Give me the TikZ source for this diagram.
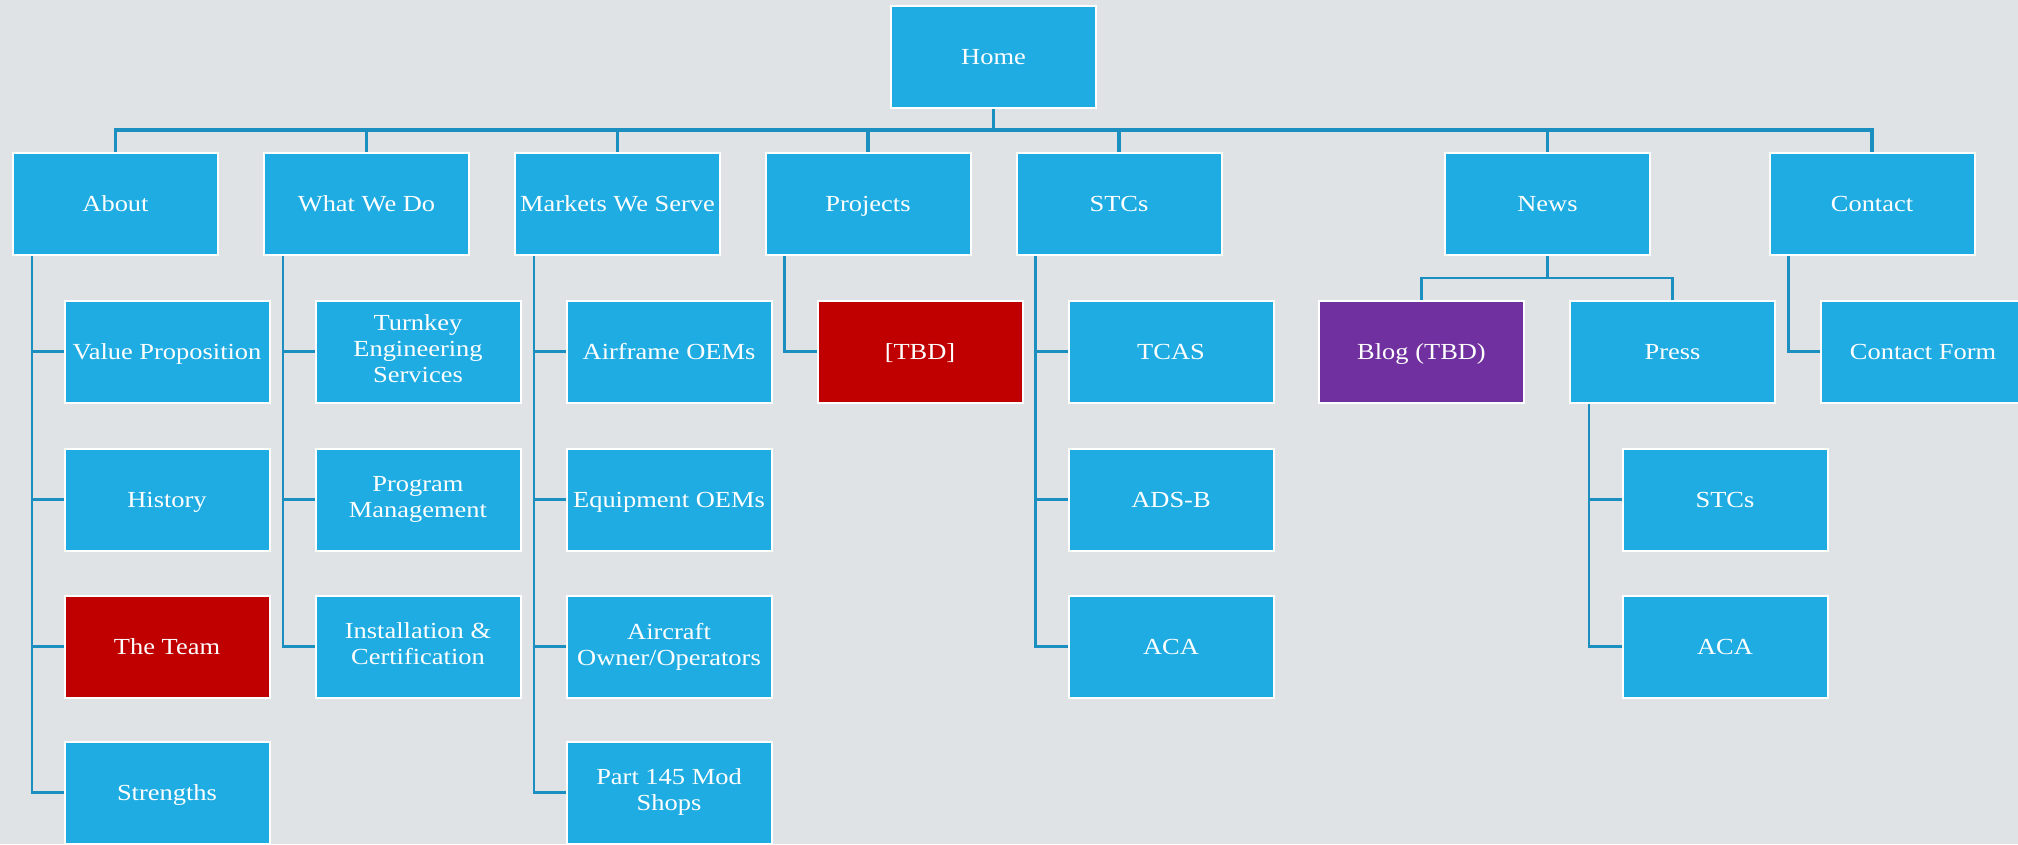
\documentclass[tikz,border=0pt]{standalone}
\usepackage{fontspec}
\setmainfont{Liberation Serif}[FakeStretch=1.15]
\definecolor{bg}{RGB}{223,227,230}
\definecolor{boxblue}{RGB}{30,172,226}
\definecolor{boxred}{RGB}{192,0,0}
\definecolor{boxpurple}{RGB}{112,48,160}
\definecolor{linecol}{RGB}{27,143,192}
\newcommand{\boxstrut}{\rule[-5.2pt]{0pt}{26pt}}
\tikzset{
  pagebox/.style={draw=white, line width=2pt, fill=boxblue, minimum width=205pt, minimum height=102pt,
    text=white, align=center, inner sep=2pt, font=\fontsize{23}{26}\selectfont,
    execute at begin node=\boxstrut, execute at end node=\boxstrut},
  redbox/.style={pagebox, fill=boxred},
  purplebox/.style={pagebox, fill=boxpurple},
  conn/.style={draw=linecol, line width=2.6pt},
  bus/.style={draw=linecol, line width=3.2pt}
}
\begin{document}
\begin{tikzpicture}[x=1pt,y=-1pt]
\fill[bg] (0,0) rectangle (2018,844);
\useasboundingbox (0,0) rectangle (2018,844);
% level 0
\node[pagebox] (home) at (993.5,57) {Home};
% level 1
\node[pagebox] (about) at (115.5,204) {About};
\node[pagebox] (wwd) at (366.5,204) {What We Do};
\node[pagebox] (mws) at (617.5,204) {Markets We Serve};
\node[pagebox] (proj) at (868,204) {Projects};
\node[pagebox] (stcs) at (1119,204) {STCs};
\node[pagebox] (news) at (1547.5,204) {News};
\node[pagebox] (contact) at (1872,204) {Contact};
% About children
\node[pagebox] (vp) at (167,351.5) {Value Proposition};
\node[pagebox] (hist) at (167,499.5) {History};
\node[redbox] (team) at (167,646.5) {The Team};
\node[pagebox] (str) at (167,792.5) {Strengths};
% What We Do children
\node[pagebox] (tes) at (418,351.5) {Turnkey\\Engineering\\Services};
\node[pagebox] (pm) at (418,499.5) {Program\\Management};
\node[pagebox] (ic) at (418,646.5) {Installation \&\\Certification};
% Markets children
\node[pagebox] (aoem) at (669,351.5) {Airframe OEMs};
\node[pagebox] (eoem) at (669,499.5) {Equipment OEMs};
\node[pagebox] (aoo) at (669,646.5) {Aircraft\\Owner/Operators};
\node[pagebox] (p145) at (669,792.5) {Part 145 Mod\\Shops};
% Projects child
\node[redbox] (tbd) at (920,351.5) {[TBD]};
% STCs children
\node[pagebox] (tcas) at (1171,351.5) {TCAS};
\node[pagebox] (adsb) at (1171,499.5) {ADS-B};
\node[pagebox] (aca) at (1171,646.5) {ACA};
% News children
\node[purplebox] (blog) at (1421.5,351.5) {Blog (TBD)};
\node[pagebox] (press) at (1672.5,351.5) {Press};
\node[pagebox] (pstcs) at (1725,499.5) {STCs};
\node[pagebox] (paca) at (1725,646.5) {ACA};
% Contact child
\node[pagebox] (cform) at (1923,351.5) {Contact Form};

% connectors
\foreach \c in {about,wwd,mws,proj,stcs,news,contact}
  \draw[bus] (home.south) -- ++(0,21) -| (\c.north);
\foreach \p/\c in {about/vp,about/hist,about/team,about/str,
                   wwd/tes,wwd/pm,wwd/ic,
                   mws/aoem,mws/eoem,mws/aoo,mws/p145,
                   proj/tbd,
                   stcs/tcas,stcs/adsb,stcs/aca,
                   press/pstcs,press/paca,
                   contact/cform}
  \draw[conn] ([xshift=20pt]\p.south west) |- (\c.west);
\foreach \c in {blog,press}
  \draw[conn] (news.south) -- ++(0,22) -| (\c.north);
\end{tikzpicture}
\end{document}
